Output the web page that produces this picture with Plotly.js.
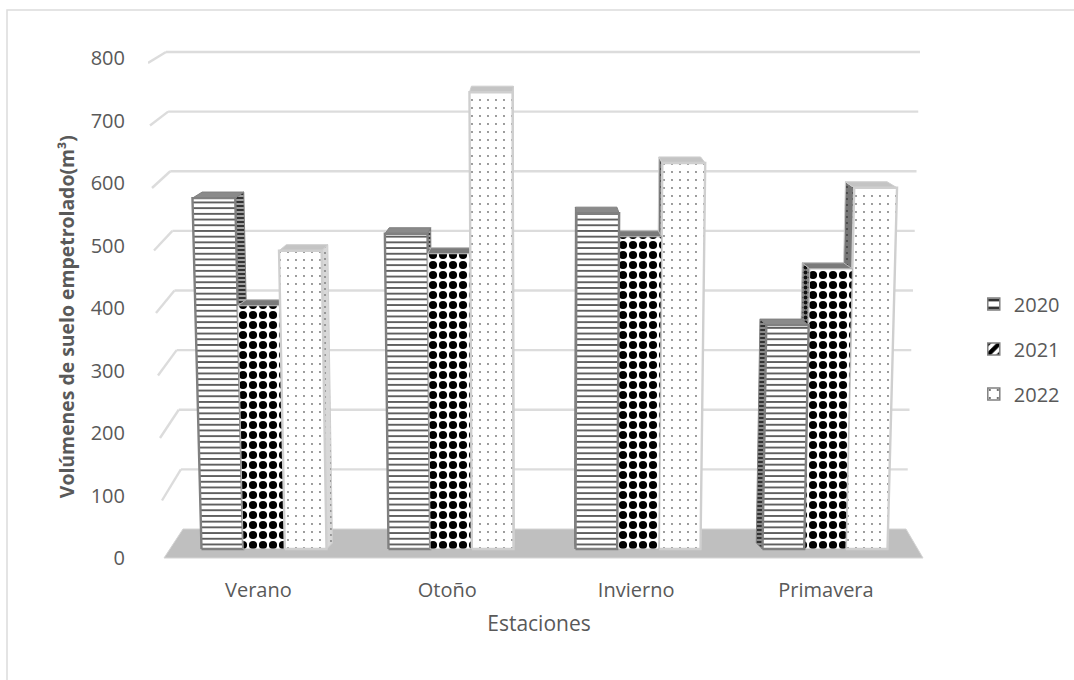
<!DOCTYPE html>
<html>
<head>
<meta charset="utf-8">
<script src="https://cdn.plot.ly/plotly-3.0.1.min.js"></script>
<style>
  html, body { margin: 0; padding: 0; background: #fff; }
  #chart { width: 1074px; height: 680px; }
</style>
</head>
<body>
<div id="chart"></div>
<script>
// Seasonal volumes of oil-contaminated soil, one series per year
const categories = ['Verano', 'Otoño', 'Invierno', 'Primavera'];
const tickPositions = [-0.03, 0.98, 1.99, 3.005];
const years = ['2020', '2021', '2022'];
const values2020 = [580, 521, 555, 370];
const values2021 = [402, 488, 516, 463];
const values2022 = [493, 755, 638, 597];
const seriesValues = [values2020, values2021, values2022];
const yTicks = [0, 100, 200, 300, 400, 500, 600, 700, 800];

// Perspective settings of the column block, in x-axis units and y2 units
const barWidth = 0.2228;
const vanishX = 1.476;
const growth = 4.6e-5;
const depthX = 0.028;
const depthY = 10;

const project = (x, v) => vanishX + (x - vanishX) * (1 + growth * v);
const back = x => x + (vanishX - x) * depthX;

function facePolygon(points) {
  return { x: points.map(p => p[0]), y: points.map(p => p[1]) };
}

const styles = [
  {
    front: { shape: '-', size: 5.7, solidity: 0.3, fgcolor: '#4d4d4d', bgcolor: '#ffffff' },
    side: { shape: '-', size: 4, solidity: 0.5, fgcolor: '#333333', bgcolor: '#a0a0a0' },
    sideFar: { shape: '-', size: 4, solidity: 0.5, fgcolor: '#333333', bgcolor: '#8a8a8a' },
    topColor: '#8a8a8a', line: '#808080', lineWidth: 2.4,
    swatch: { shape: '-', size: 11, solidity: 0.35, fgcolor: '#333333', bgcolor: '#ffffff' }
  },
  {
    front: { shape: '.', size: 10, solidity: 0.52, fgcolor: '#000000', bgcolor: '#ffffff' },
    side: { shape: '.', size: 5, solidity: 0.45, fgcolor: '#111111', bgcolor: '#9a9a9a' },
    sideFar: { shape: '.', size: 5, solidity: 0.45, fgcolor: '#111111', bgcolor: '#8a8a8a' },
    topColor: '#7a7a7a', line: '#b8b8b8', lineWidth: 1,
    swatch: { shape: '/', size: 15, solidity: 0.55, fgcolor: '#000000', bgcolor: '#ffffff' }
  },
  {
    front: { shape: '.', size: 8, solidity: 0.04, fgcolor: '#6e6e6e', bgcolor: '#ffffff' },
    side: { shape: '.', size: 6, solidity: 0.1, fgcolor: '#888888', bgcolor: '#d8d8d8' },
    sideFar: { shape: '.', size: 6, solidity: 0.1, fgcolor: '#444444', bgcolor: '#777777' },
    topColor: '#c4c4c4', line: '#cfcfcf', lineWidth: 2.4,
    swatch: { shape: '.', size: 12, solidity: 0.04, fgcolor: '#333333', bgcolor: '#ffffff' }
  }
];

const barTraces = [];
function addBar(group, s) {
  const v = seriesValues[s][group];
  const x0 = group - 1.5 * barWidth + s * barWidth;
  const x1 = x0 + barWidth;
  const st = styles[s];
  const leftOfCentre = x1 <= vanishX;
  const edge = leftOfCentre ? x1 : x0;
  const sidePattern = leftOfCentre ? st.side : st.sideFar;
  const baseFace = { type: 'scatter', mode: 'lines', fill: 'toself', hoverinfo: 'skip',
    showlegend: false, xaxis: 'x', yaxis: 'y2' };
  // outer side wall, facing the middle of the chart
  const side = facePolygon([
    [project(edge, 0), 0], [project(back(edge), 0), depthY],
    [project(back(edge), v), v + depthY], [project(edge, v), v], [project(edge, 0), 0]
  ]);
  barTraces.push(Object.assign({}, baseFace, side, {
    line: { color: st.line, width: 1 }, fillpattern: sidePattern, fillcolor: sidePattern.bgcolor }));
  // lid
  const top = facePolygon([
    [project(x0, v), v], [project(x1, v), v],
    [project(back(x1), v), v + depthY], [project(back(x0), v), v + depthY], [project(x0, v), v]
  ]);
  barTraces.push(Object.assign({}, baseFace, top, {
    line: { color: st.line, width: 1 }, fillcolor: st.topColor }));
  // front
  const front = facePolygon([
    [project(x0, 0), 0], [project(x1, 0), 0],
    [project(x1, v), v], [project(x0, v), v], [project(x0, 0), 0]
  ]);
  barTraces.push(Object.assign({}, baseFace, front, {
    line: { color: st.line, width: st.lineWidth }, fillpattern: st.front, fillcolor: st.front.bgcolor }));
}
// Columns nearer the middle are painted last so they hide their neighbours' walls
categories.forEach((c, g) => {
  const order = g < 2 ? [0, 1, 2] : [2, 1, 0];
  order.forEach(s => addBar(g, s));
});

// Legend entries
const legendTraces = years.map((y, s) => ({
  type: 'bar', name: y, x: [null], y: [null], xaxis: 'x', yaxis: 'y2',
  legendgroup: y,
  marker: { color: '#ffffff', line: { color: '#808080', width: 1.5 }, pattern: styles[s].swatch }
}));

// Plot frame, in page pixels
const frameLeft = 148, frameRight = 930, frameTop = 40, frameBottom = 558;
const frameW = frameRight - frameLeft, frameH = frameBottom - frameTop;
const xAt = px => (px - 264) / 187;
const paperX = px => (px - frameLeft) / frameW;
const paperY = py => (frameBottom - py) / frameH;

// Back wall grid, the slanted return at its left and the floor
const gridShapes = [];
const lineStyle = { color: '#dcdcdc', width: 2.4 };
yTicks.forEach(t => {
  if (t === 0) return;
  const f = t / 800;
  const backLeft = 183 - 17 * f, backRight = 906 + 14 * f, frontLeft = 164 - 16 * f;
  gridShapes.push({ type: 'line', layer: 'below', xref: 'x', yref: 'y3',
    x0: xAt(backLeft), x1: xAt(backRight), y0: t, y1: t, line: lineStyle });
  gridShapes.push({ type: 'line', layer: 'below', xref: 'x', yref: 'y',
    x0: xAt(frontLeft), x1: xAt(backLeft), y0: t - 8, y1: 46.4 + 0.954 * t, line: lineStyle });
});
gridShapes.push({ type: 'path', layer: 'below', xref: 'paper', yref: 'paper',
  path: 'M ' + paperX(164) + ' ' + paperY(558) +
        ' L ' + paperX(923) + ' ' + paperY(558) +
        ' L ' + paperX(906) + ' ' + paperY(529) +
        ' L ' + paperX(183) + ' ' + paperY(529) + ' Z',
  fillcolor: '#bfbfbf', line: { color: '#d4d4d4', width: 1 } });
// Chart area outline; it runs off the right and bottom of the page
gridShapes.push({ type: 'rect', xref: 'paper', yref: 'paper', layer: 'below',
  x0: paperX(7), x1: paperX(1090), y0: paperY(695), y1: paperY(10),
  line: { color: '#dcdcdc', width: 1.5 }, fillcolor: 'rgba(0,0,0,0)' });

const layout = {
  width: 1074, height: 680,
  paper_bgcolor: '#ffffff', plot_bgcolor: 'rgba(0,0,0,0)',
  font: { family: '"Open Sans", sans-serif', color: '#595959', size: 20 },
  margin: { l: frameLeft, r: 1074 - frameRight, t: frameTop, b: 680 - frameBottom, autoexpand: false },
  showlegend: true,
  legend: { x: 1.056, xanchor: 'left', y: 0.4035, yanchor: 'middle', traceorder: 'grouped',
    tracegroupgap: 16, font: { size: 20, color: '#595959' }, bgcolor: 'rgba(0,0,0,0)' },
  barmode: 'overlay',
  xaxis: {
    range: [xAt(frameLeft), xAt(frameRight)], tickmode: 'array', tickvals: tickPositions, ticktext: categories,
    showgrid: false, zeroline: false, showline: false,
    ticks: 'outside', ticklen: 14, tickcolor: 'rgba(0,0,0,0)',
    tickfont: { size: 20 },
    title: { text: 'Estaciones', standoff: 14, font: { size: 21 } }
  },
  yaxis: {
    range: [0, 828.8], tickmode: 'array', tickvals: yTicks,
    showgrid: false, zeroline: false, showline: false,
    ticks: 'outside', ticklen: 18, tickcolor: 'rgba(0,0,0,0)',
    tickfont: { size: 20 },
    // trailing no-break spaces move the centred title down the axis
    title: { text: '<b>Volúmenes de suelo empetrolado(m³)' + '\u00a0'.repeat(7) + '</b>', standoff: 10, font: { size: 19.4 } }
  },
  yaxis2: { overlaying: 'y', range: [-14.88, 841.3], visible: false },
  yaxis3: { overlaying: 'y', range: [-48.64, 820.1], visible: false },
  shapes: gridShapes
};

Plotly.newPlot('chart', barTraces.concat(legendTraces), layout, { displayModeBar: false, responsive: false });
</script>
</body>
</html>
